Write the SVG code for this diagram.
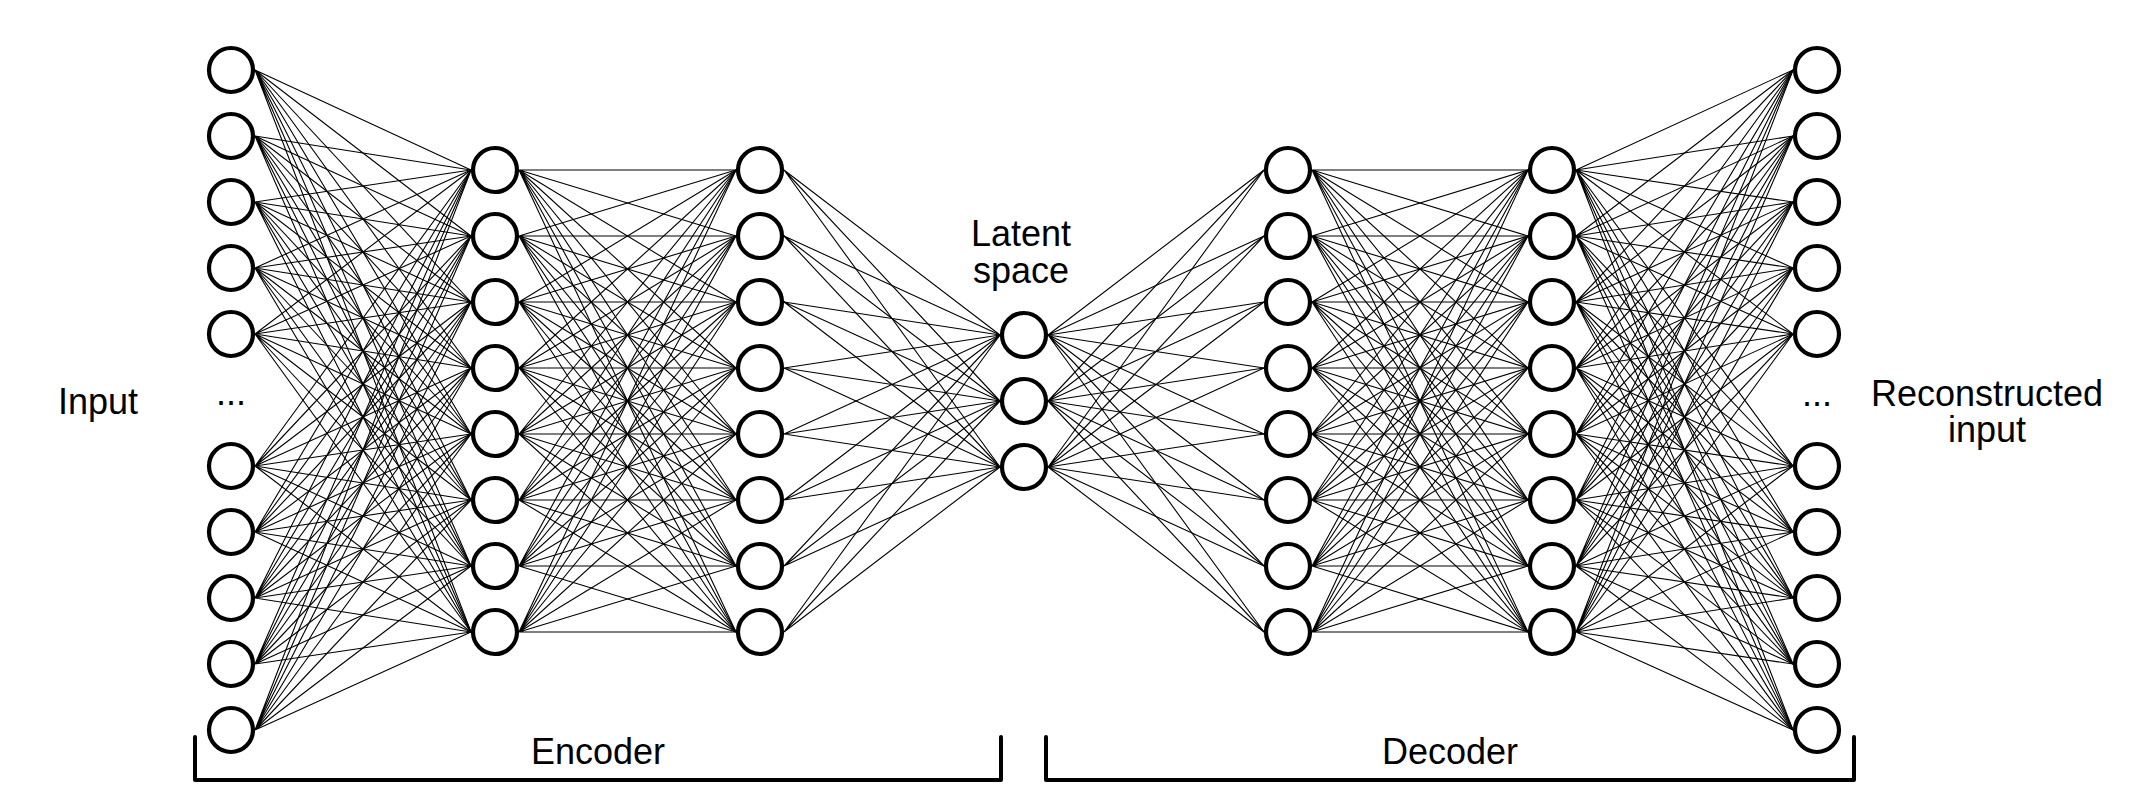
<svg xmlns="http://www.w3.org/2000/svg" width="2150" height="800" viewBox="0 0 2150 800">
<style>
.bg{fill:#fff}
.edge{fill:none;stroke:#000;stroke-width:1.1}
.node circle{fill:#fff;stroke:#000;stroke-width:4.2}
.lbl{font-family:"Liberation Sans",Arial,sans-serif;font-size:36px;fill:#000;text-anchor:middle}
.br{fill:none;stroke:#000;stroke-width:4;stroke-linejoin:round;stroke-linecap:round}
</style>
<rect class="bg" x="0" y="0" width="2150" height="800"/>
<g id="connectors">
<g id="edges-input-h1">
<path class="edge" d="M255,70L471,170M255,70L471,236M255,70L471,302M255,70L471,368M255,70L471,434M255,70L471,500M255,70L471,566M255,70L471,632"/>
<path class="edge" d="M255,136L471,170M255,136L471,236M255,136L471,302M255,136L471,368M255,136L471,434M255,136L471,500M255,136L471,566M255,136L471,632"/>
<path class="edge" d="M255,202L471,170M255,202L471,236M255,202L471,302M255,202L471,368M255,202L471,434M255,202L471,500M255,202L471,566M255,202L471,632"/>
<path class="edge" d="M255,268L471,170M255,268L471,236M255,268L471,302M255,268L471,368M255,268L471,434M255,268L471,500M255,268L471,566M255,268L471,632"/>
<path class="edge" d="M255,334L471,170M255,334L471,236M255,334L471,302M255,334L471,368M255,334L471,434M255,334L471,500M255,334L471,566M255,334L471,632"/>
<path class="edge" d="M255,466L471,170M255,466L471,236M255,466L471,302M255,466L471,368M255,466L471,434M255,466L471,500M255,466L471,566M255,466L471,632"/>
<path class="edge" d="M255,532L471,170M255,532L471,236M255,532L471,302M255,532L471,368M255,532L471,434M255,532L471,500M255,532L471,566M255,532L471,632"/>
<path class="edge" d="M255,598L471,170M255,598L471,236M255,598L471,302M255,598L471,368M255,598L471,434M255,598L471,500M255,598L471,566M255,598L471,632"/>
<path class="edge" d="M255,664L471,170M255,664L471,236M255,664L471,302M255,664L471,368M255,664L471,434M255,664L471,500M255,664L471,566M255,664L471,632"/>
<path class="edge" d="M255,730L471,170M255,730L471,236M255,730L471,302M255,730L471,368M255,730L471,434M255,730L471,500M255,730L471,566M255,730L471,632"/>
</g>
<g id="edges-h1-h2">
<path class="edge" d="M519,170L736,170M519,170L736,236M519,170L736,302M519,170L736,368M519,170L736,434M519,170L736,500M519,170L736,566M519,170L736,632"/>
<path class="edge" d="M519,236L736,170M519,236L736,236M519,236L736,302M519,236L736,368M519,236L736,434M519,236L736,500M519,236L736,566M519,236L736,632"/>
<path class="edge" d="M519,302L736,170M519,302L736,236M519,302L736,302M519,302L736,368M519,302L736,434M519,302L736,500M519,302L736,566M519,302L736,632"/>
<path class="edge" d="M519,368L736,170M519,368L736,236M519,368L736,302M519,368L736,368M519,368L736,434M519,368L736,500M519,368L736,566M519,368L736,632"/>
<path class="edge" d="M519,434L736,170M519,434L736,236M519,434L736,302M519,434L736,368M519,434L736,434M519,434L736,500M519,434L736,566M519,434L736,632"/>
<path class="edge" d="M519,500L736,170M519,500L736,236M519,500L736,302M519,500L736,368M519,500L736,434M519,500L736,500M519,500L736,566M519,500L736,632"/>
<path class="edge" d="M519,566L736,170M519,566L736,236M519,566L736,302M519,566L736,368M519,566L736,434M519,566L736,500M519,566L736,566M519,566L736,632"/>
<path class="edge" d="M519,632L736,170M519,632L736,236M519,632L736,302M519,632L736,368M519,632L736,434M519,632L736,500M519,632L736,566M519,632L736,632"/>
</g>
<g id="edges-h2-latent">
<path class="edge" d="M784,170L1000,335M784,170L1000,401M784,170L1000,467"/>
<path class="edge" d="M784,236L1000,335M784,236L1000,401M784,236L1000,467"/>
<path class="edge" d="M784,302L1000,335M784,302L1000,401M784,302L1000,467"/>
<path class="edge" d="M784,368L1000,335M784,368L1000,401M784,368L1000,467"/>
<path class="edge" d="M784,434L1000,335M784,434L1000,401M784,434L1000,467"/>
<path class="edge" d="M784,500L1000,335M784,500L1000,401M784,500L1000,467"/>
<path class="edge" d="M784,566L1000,335M784,566L1000,401M784,566L1000,467"/>
<path class="edge" d="M784,632L1000,335M784,632L1000,401M784,632L1000,467"/>
</g>
<g id="edges-latent-d1">
<path class="edge" d="M1048,335L1264,170M1048,335L1264,236M1048,335L1264,302M1048,335L1264,368M1048,335L1264,434M1048,335L1264,500M1048,335L1264,566M1048,335L1264,632"/>
<path class="edge" d="M1048,401L1264,170M1048,401L1264,236M1048,401L1264,302M1048,401L1264,368M1048,401L1264,434M1048,401L1264,500M1048,401L1264,566M1048,401L1264,632"/>
<path class="edge" d="M1048,467L1264,170M1048,467L1264,236M1048,467L1264,302M1048,467L1264,368M1048,467L1264,434M1048,467L1264,500M1048,467L1264,566M1048,467L1264,632"/>
</g>
<g id="edges-d1-d2">
<path class="edge" d="M1312,170L1528,170M1312,170L1528,236M1312,170L1528,302M1312,170L1528,368M1312,170L1528,434M1312,170L1528,500M1312,170L1528,566M1312,170L1528,632"/>
<path class="edge" d="M1312,236L1528,170M1312,236L1528,236M1312,236L1528,302M1312,236L1528,368M1312,236L1528,434M1312,236L1528,500M1312,236L1528,566M1312,236L1528,632"/>
<path class="edge" d="M1312,302L1528,170M1312,302L1528,236M1312,302L1528,302M1312,302L1528,368M1312,302L1528,434M1312,302L1528,500M1312,302L1528,566M1312,302L1528,632"/>
<path class="edge" d="M1312,368L1528,170M1312,368L1528,236M1312,368L1528,302M1312,368L1528,368M1312,368L1528,434M1312,368L1528,500M1312,368L1528,566M1312,368L1528,632"/>
<path class="edge" d="M1312,434L1528,170M1312,434L1528,236M1312,434L1528,302M1312,434L1528,368M1312,434L1528,434M1312,434L1528,500M1312,434L1528,566M1312,434L1528,632"/>
<path class="edge" d="M1312,500L1528,170M1312,500L1528,236M1312,500L1528,302M1312,500L1528,368M1312,500L1528,434M1312,500L1528,500M1312,500L1528,566M1312,500L1528,632"/>
<path class="edge" d="M1312,566L1528,170M1312,566L1528,236M1312,566L1528,302M1312,566L1528,368M1312,566L1528,434M1312,566L1528,500M1312,566L1528,566M1312,566L1528,632"/>
<path class="edge" d="M1312,632L1528,170M1312,632L1528,236M1312,632L1528,302M1312,632L1528,368M1312,632L1528,434M1312,632L1528,500M1312,632L1528,566M1312,632L1528,632"/>
</g>
<g id="edges-d2-output">
<path class="edge" d="M1576,170L1793,70M1576,170L1793,136M1576,170L1793,202M1576,170L1793,268M1576,170L1793,334M1576,170L1793,466M1576,170L1793,532M1576,170L1793,598M1576,170L1793,664M1576,170L1793,730"/>
<path class="edge" d="M1576,236L1793,70M1576,236L1793,136M1576,236L1793,202M1576,236L1793,268M1576,236L1793,334M1576,236L1793,466M1576,236L1793,532M1576,236L1793,598M1576,236L1793,664M1576,236L1793,730"/>
<path class="edge" d="M1576,302L1793,70M1576,302L1793,136M1576,302L1793,202M1576,302L1793,268M1576,302L1793,334M1576,302L1793,466M1576,302L1793,532M1576,302L1793,598M1576,302L1793,664M1576,302L1793,730"/>
<path class="edge" d="M1576,368L1793,70M1576,368L1793,136M1576,368L1793,202M1576,368L1793,268M1576,368L1793,334M1576,368L1793,466M1576,368L1793,532M1576,368L1793,598M1576,368L1793,664M1576,368L1793,730"/>
<path class="edge" d="M1576,434L1793,70M1576,434L1793,136M1576,434L1793,202M1576,434L1793,268M1576,434L1793,334M1576,434L1793,466M1576,434L1793,532M1576,434L1793,598M1576,434L1793,664M1576,434L1793,730"/>
<path class="edge" d="M1576,500L1793,70M1576,500L1793,136M1576,500L1793,202M1576,500L1793,268M1576,500L1793,334M1576,500L1793,466M1576,500L1793,532M1576,500L1793,598M1576,500L1793,664M1576,500L1793,730"/>
<path class="edge" d="M1576,566L1793,70M1576,566L1793,136M1576,566L1793,202M1576,566L1793,268M1576,566L1793,334M1576,566L1793,466M1576,566L1793,532M1576,566L1793,598M1576,566L1793,664M1576,566L1793,730"/>
<path class="edge" d="M1576,632L1793,70M1576,632L1793,136M1576,632L1793,202M1576,632L1793,268M1576,632L1793,334M1576,632L1793,466M1576,632L1793,532M1576,632L1793,598M1576,632L1793,664M1576,632L1793,730"/>
</g>
</g>
<g id="input-layer">
<g id="in1" class="node"><circle cx="231" cy="70" r="22"/></g>
<g id="in2" class="node"><circle cx="231" cy="136" r="22"/></g>
<g id="in3" class="node"><circle cx="231" cy="202" r="22"/></g>
<g id="in4" class="node"><circle cx="231" cy="268" r="22"/></g>
<g id="in5" class="node"><circle cx="231" cy="334" r="22"/></g>
<g id="in6" class="node"><circle cx="231" cy="466" r="22"/></g>
<g id="in7" class="node"><circle cx="231" cy="532" r="22"/></g>
<g id="in8" class="node"><circle cx="231" cy="598" r="22"/></g>
<g id="in9" class="node"><circle cx="231" cy="664" r="22"/></g>
<g id="in10" class="node"><circle cx="231" cy="730" r="22"/></g>
</g>
<g id="encoder-h1">
<g id="e1n1" class="node"><circle cx="495" cy="170" r="22"/></g>
<g id="e1n2" class="node"><circle cx="495" cy="236" r="22"/></g>
<g id="e1n3" class="node"><circle cx="495" cy="302" r="22"/></g>
<g id="e1n4" class="node"><circle cx="495" cy="368" r="22"/></g>
<g id="e1n5" class="node"><circle cx="495" cy="434" r="22"/></g>
<g id="e1n6" class="node"><circle cx="495" cy="500" r="22"/></g>
<g id="e1n7" class="node"><circle cx="495" cy="566" r="22"/></g>
<g id="e1n8" class="node"><circle cx="495" cy="632" r="22"/></g>
</g>
<g id="encoder-h2">
<g id="e2n1" class="node"><circle cx="760" cy="170" r="22"/></g>
<g id="e2n2" class="node"><circle cx="760" cy="236" r="22"/></g>
<g id="e2n3" class="node"><circle cx="760" cy="302" r="22"/></g>
<g id="e2n4" class="node"><circle cx="760" cy="368" r="22"/></g>
<g id="e2n5" class="node"><circle cx="760" cy="434" r="22"/></g>
<g id="e2n6" class="node"><circle cx="760" cy="500" r="22"/></g>
<g id="e2n7" class="node"><circle cx="760" cy="566" r="22"/></g>
<g id="e2n8" class="node"><circle cx="760" cy="632" r="22"/></g>
</g>
<g id="latent">
<g id="z1" class="node"><circle cx="1024" cy="335" r="22"/></g>
<g id="z2" class="node"><circle cx="1024" cy="401" r="22"/></g>
<g id="z3" class="node"><circle cx="1024" cy="467" r="22"/></g>
</g>
<g id="decoder-h1">
<g id="d1n1" class="node"><circle cx="1288" cy="170" r="22"/></g>
<g id="d1n2" class="node"><circle cx="1288" cy="236" r="22"/></g>
<g id="d1n3" class="node"><circle cx="1288" cy="302" r="22"/></g>
<g id="d1n4" class="node"><circle cx="1288" cy="368" r="22"/></g>
<g id="d1n5" class="node"><circle cx="1288" cy="434" r="22"/></g>
<g id="d1n6" class="node"><circle cx="1288" cy="500" r="22"/></g>
<g id="d1n7" class="node"><circle cx="1288" cy="566" r="22"/></g>
<g id="d1n8" class="node"><circle cx="1288" cy="632" r="22"/></g>
</g>
<g id="decoder-h2">
<g id="d2n1" class="node"><circle cx="1552" cy="170" r="22"/></g>
<g id="d2n2" class="node"><circle cx="1552" cy="236" r="22"/></g>
<g id="d2n3" class="node"><circle cx="1552" cy="302" r="22"/></g>
<g id="d2n4" class="node"><circle cx="1552" cy="368" r="22"/></g>
<g id="d2n5" class="node"><circle cx="1552" cy="434" r="22"/></g>
<g id="d2n6" class="node"><circle cx="1552" cy="500" r="22"/></g>
<g id="d2n7" class="node"><circle cx="1552" cy="566" r="22"/></g>
<g id="d2n8" class="node"><circle cx="1552" cy="632" r="22"/></g>
</g>
<g id="output-layer">
<g id="out1" class="node"><circle cx="1817" cy="70" r="22"/></g>
<g id="out2" class="node"><circle cx="1817" cy="136" r="22"/></g>
<g id="out3" class="node"><circle cx="1817" cy="202" r="22"/></g>
<g id="out4" class="node"><circle cx="1817" cy="268" r="22"/></g>
<g id="out5" class="node"><circle cx="1817" cy="334" r="22"/></g>
<g id="out6" class="node"><circle cx="1817" cy="466" r="22"/></g>
<g id="out7" class="node"><circle cx="1817" cy="532" r="22"/></g>
<g id="out8" class="node"><circle cx="1817" cy="598" r="22"/></g>
<g id="out9" class="node"><circle cx="1817" cy="664" r="22"/></g>
<g id="out10" class="node"><circle cx="1817" cy="730" r="22"/></g>
</g>
<g id="labels">
<text class="lbl" x="98" y="414">Input</text>
<text class="lbl" x="231" y="405">...</text>
<text class="lbl" x="1817" y="406">...</text>
<text class="lbl" x="1021" y="246">Latent</text>
<text class="lbl" x="1021" y="283">space</text>
<text class="lbl" x="1987" y="406">Reconstructed</text>
<text class="lbl" x="1987" y="442">input</text>
<text class="lbl" x="598" y="764">Encoder</text>
<text class="lbl" x="1450" y="764">Decoder</text>
</g>
<g id="brackets">
<path class="br" d="M195,737V780H1001V737"/>
<path class="br" d="M1046,737V780H1854V737"/>
</g>
</svg>
